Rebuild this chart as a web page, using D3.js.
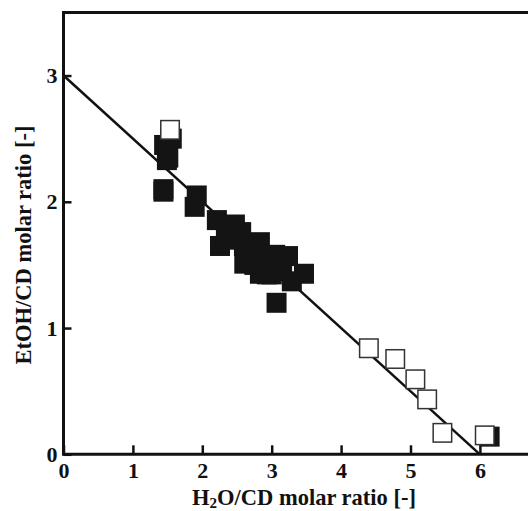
<!DOCTYPE html>
<html>
<head>
<meta charset="utf-8">
<script src="https://cdn.jsdelivr.net/npm/d3@7"></script>
<style>
  body { margin: 0; background: #fff; }
  svg { display: block; }
  .tick text { font-family: "Liberation Serif", "Times New Roman", serif; font-weight: bold; font-size: 22px; fill: #111; }
  .axis-title { font-family: "Liberation Serif", "Times New Roman", serif; font-weight: bold; font-size: 22.5px; fill: #111; }
</style>
</head>
<body>
<svg id="chart"></svg>
<script>
// filled squares (dense cluster)
const filledX = [1.56, 1.45, 1.49, 1.51, 1.44, 1.44, 1.92, 1.89, 2.21, 2.47, 2.56, 2.83, 3.05, 3.235, 3.465, 3.29,
                 2.255, 2.34, 2.605, 2.83, 2.93, 3.0, 2.4, 2.7, 2.9, 3.1, 2.6, 2.75, 3.15, 3.07, 6.14];
const filledY = [2.50, 2.45, 2.33, 2.35, 2.10, 2.08, 2.05, 1.96, 1.855, 1.82, 1.76, 1.68, 1.58, 1.57, 1.43, 1.37,
                 1.65, 1.72, 1.51, 1.43, 1.425, 1.425, 1.70, 1.60, 1.55, 1.50, 1.65, 1.50, 1.45, 1.20, 0.14];
// open squares
const openX = [1.535, 4.40, 4.78, 5.07, 5.24, 5.46, 6.07];
const openY = [2.57, 0.84, 0.755, 0.594, 0.435, 0.17, 0.15];
// fitted line
const lineX = [0, 6];
const lineY = [3, 0];
const xTicks = [0, 1, 2, 3, 4, 5, 6];
const yTicks = [0, 1, 2, 3];

const W = 528, H = 511;
const svg = d3.select('#chart').attr('width', W).attr('height', H);

const x = d3.scaleLinear().domain([0, 7]).range([63.5, 63.5 + 7 * 69.4]);
const y = d3.scaleLinear().domain([0, 3.5]).range([454.3, 12.4]);
const sq = 20;

// axes with inward ticks
const xAxis = d3.axisBottom(x).tickValues(xTicks).tickSize(-9).tickFormat(d3.format('d'));
const yAxis = d3.axisLeft(y).tickValues(yTicks).tickSize(-8).tickFormat(d3.format('d'));

svg.append('g')
    .attr('transform', `translate(0,${y(0)})`)
    .call(xAxis)
    .call(g => g.select('.domain').remove())
    .call(g => g.selectAll('.tick line').attr('stroke', '#111').attr('stroke-width', 2.5))
    .call(g => g.selectAll('.tick text').attr('y', 24).attr('dy', null));

svg.append('g')
    .attr('transform', `translate(${x(0)},0)`)
    .call(yAxis)
    .call(g => g.select('.domain').remove())
    .call(g => g.selectAll('.tick line').attr('stroke', '#111').attr('stroke-width', 2.5))
    .call(g => g.selectAll('.tick text').attr('x', -6));

// frame: left, top, bottom (right side runs past the picture)
svg.append('path')
    .attr('d', `M${W + 5},${y(3.5)} H${x(0)} V${y(0)} H${W + 5}`)
    .attr('fill', 'none')
    .attr('stroke', '#111')
    .attr('stroke-width', 3);

// line
svg.append('line')
    .attr('x1', x(lineX[0])).attr('y1', y(lineY[0]))
    .attr('x2', x(lineX[1])).attr('y2', y(lineY[1]))
    .attr('stroke', '#111')
    .attr('stroke-width', 2.5);

// filled points
svg.append('g').selectAll('rect')
    .data(d3.range(filledX.length))
  .join('rect')
    .attr('x', i => x(filledX[i]) - sq / 2)
    .attr('y', i => y(filledY[i]) - sq / 2)
    .attr('width', sq)
    .attr('height', sq)
    .attr('fill', '#141414');

// open points
svg.append('g').selectAll('rect')
    .data(d3.range(openX.length))
  .join('rect')
    .attr('x', i => x(openX[i]) - sq / 2 + 0.75)
    .attr('y', i => y(openY[i]) - sq / 2 + 0.75)
    .attr('width', sq - 1.5)
    .attr('height', sq - 1.5)
    .attr('fill', '#fff')
    .attr('stroke', '#333')
    .attr('stroke-width', 1.5);

// axis titles
const xt = svg.append('text')
    .attr('class', 'axis-title')
    .attr('x', 304)
    .attr('y', 505)
    .attr('text-anchor', 'middle');
xt.append('tspan').text('H');
xt.append('tspan').attr('font-size', 15).attr('dy', 3).text('2');
xt.append('tspan').attr('dy', -3).text('O/CD molar ratio [-]');

svg.append('text')
    .attr('class', 'axis-title')
    .attr('transform', 'translate(31,245) rotate(-90)')
    .attr('text-anchor', 'middle')
    .text('EtOH/CD molar ratio [-]');
</script>
</body>
</html>
